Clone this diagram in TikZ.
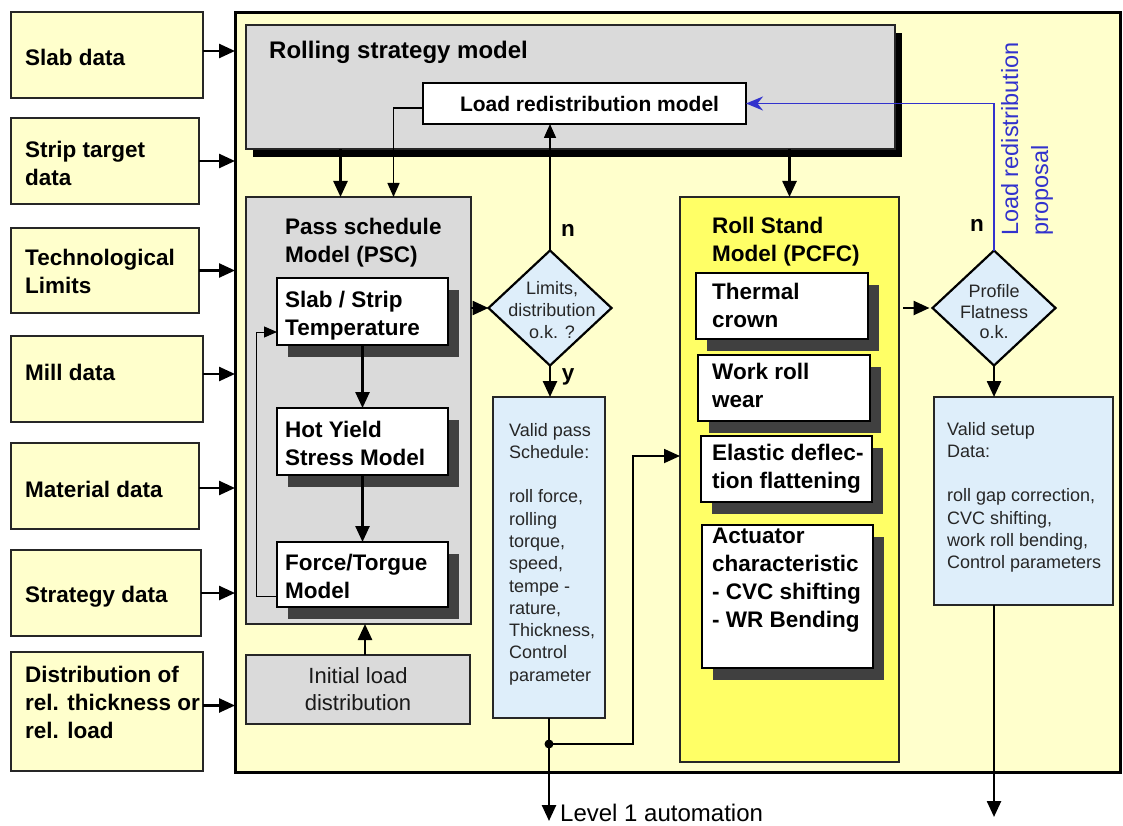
\documentclass[tikz,border=0pt]{standalone}
\usepackage{fontspec}
\setmainfont{Liberation Sans}
\usetikzlibrary{arrows.meta,shapes.geometric,fit,calc,shadows}

\definecolor{paleyellow}{RGB}{255,255,204}
\definecolor{boxgray}{RGB}{218,218,218}
\definecolor{paleblue}{RGB}{222,238,250}
\definecolor{standyellow}{RGB}{255,255,102}
\definecolor{shadowgray}{RGB}{64,64,64}
\definecolor{edge}{RGB}{38,38,38}
\definecolor{proposalblue}{RGB}{50,50,205}

\newcommand\lblfont{\fontsize{22.5}{28}\selectfont\bfseries}
\newcommand\smallfont{\fontsize{18}{22.3}\selectfont}

\tikzset{
  rect/.style={draw=edge, line width=1.4pt, inner sep=0pt, outer sep=0pt, rectangle},
  inbox/.style={rect, fill=paleyellow},
  graybox/.style={rect, fill=boxgray},
  whitebox/.style={rect, fill=white, draw=black},
  bluebox/.style={rect, fill=paleblue},
  sh/.style={drop shadow={shadow xshift=11pt, shadow yshift=-12pt, fill=shadowgray, opacity=1}},
  lbl/.style={inner sep=0pt, align=left, anchor=north west, font=\lblfont, text=black},
  small/.style={inner sep=0pt, align=left, anchor=north west, font=\smallfont, text=black!85},
  arr/.style={draw=black, line width=2.5pt, -{Triangle[length=16pt,width=14pt]}},
  thinarr/.style={draw=black, line width=1.4pt, -{Triangle[length=14pt,width=12pt]}},
  decision/.style={diamond, draw=black, line width=2.2pt, fill=paleblue, inner sep=0pt,
                   outer sep=0pt, minimum width=123pt, minimum height=115pt},
}

\begin{document}
\begin{tikzpicture}[x=1pt, y=-1pt]
\useasboundingbox (0,0) rectangle (1123,826);

% system frame
\node[rect, draw=black, line width=3pt, fill=paleyellow, fit={(235,13) (1120,772)}] (main) {};

% input data
\node[inbox, fit={(11,12) (203,98)}] (slab) {};
\node[lbl] (slabT) at (25,49) {Slab data};
\node[inbox, fit={(11,118) (199,204)}] (strip) {};
\node[lbl] (stripT) at (25,141) {Strip target\\data};
\node[inbox, fit={(11,228) (199,313)}] (tech) {};
\node[lbl] (techT) at (25,249) {Technological\\Limits};
\node[inbox, fit={(11,336) (203,422)}] (mill) {};
\node[lbl] (millT) at (25,364) {Mill data};
\node[inbox, fit={(11,443) (199,529)}] (mat) {};
\node[lbl] (matT) at (25,481) {Material data};
\node[inbox, fit={(11,550) (201,636)}] (strat) {};
\node[lbl] (stratT) at (25,586) {Strategy data};
\node[inbox, fit={(11,652) (203,771)}] (dist) {};
\node[lbl] (distT) at (25,666) {Distribution of\\rel. thickness or\\rel. load};

% rolling strategy model
\node[graybox, fit={(246,25) (895,149)},
      drop shadow={shadow xshift=7pt, shadow yshift=-8pt, fill=black, opacity=1}] (roll) {};
\node[lbl, font=\fontsize{24}{28}\selectfont\bfseries] (rollT) at (269,41) {Rolling strategy model};
\node[whitebox, fit={(423,83) (746,124)}] (lrm) {};
\node[inner sep=0pt, font=\fontsize{21}{25}\selectfont\bfseries] (lrmT) at ($(lrm.center)+(5,0)$) {Load redistribution model};

% pass schedule model
\node[graybox, fit={(246,197) (471,624)}] (psc) {};
\node[lbl] (pscT) at (285,218) {Pass schedule\\Model (PSC)};
\node[whitebox, sh, fit={(277,278) (448,345)}] (temp) {};
\node[lbl] (tempT) at (285,291) {Slab / Strip\\Temperature};
\node[whitebox, sh, fit={(277,408) (448,475)}] (hot) {};
\node[lbl] (hotT) at (285,421) {Hot Yield\\Stress Model};
\node[whitebox, sh, fit={(277,542) (448,607)}] (force) {};
\node[lbl] (forceT) at (285,554) {Force/Torgue\\Model};

\node[graybox, fit={(246,655) (470,724)}] (init) {};
\node[inner sep=0pt, font=\fontsize{22}{27}\selectfont, align=center, text=black!90] (initT) at (init.center) {Initial load\\distribution};

% first decision and pass schedule result
\node[decision] (d1) at (550,308) {};
\node[font=\smallfont, align=center, inner sep=0pt, text=black!85] (d1T) at (552,310) {Limits,\\distribution\\o.k. ?};
\node[bluebox, fit={(493,397) (605,718)}] (vps) {};
\node[small] (vpsT) at (509,423) {Valid pass\\Schedule:\\[22pt]roll force,\\rolling\\torque,\\speed,\\tempe -\\rature,\\Thickness,\\Control\\parameter};

% roll stand model
\node[rect, fill=standyellow, fit={(680,197) (899,762)}] (pcfc) {};
\node[lbl] (pcfcT) at (712,217) {Roll Stand\\Model (PCFC)};
\node[whitebox, sh, fit={(696,273) (868,339)}] (therm) {};
\node[lbl] (thermT) at (712,283) {Thermal\\crown};
\node[whitebox, sh, fit={(698,355) (870,421)}] (wear) {};
\node[lbl] (wearT) at (712,363) {Work roll\\wear};
\node[whitebox, sh, fit={(701,436) (872,502)}] (elastic) {};
\node[lbl] (elasticT) at (712,444) {Elastic deflec-\\tion flattening};
\node[whitebox, sh, fit={(702,525) (873,668)}] (act) {};
\node[lbl] (actT) at (712,528) {Actuator\\characteristic\\- CVC shifting\\- WR Bending};

% second decision and setup result
\node[decision] (d2) at (994,308) {};
\node[font=\fontsize{18}{20.5}\selectfont, align=center, inner sep=0pt, text=black!85] (d2T) at (994,312) {Profile\\Flatness\\o.k.};
\node[bluebox, fit={(934,397) (1113,605)}] (vsd) {};
\node[small] (vsdT) at (947,422) {Valid setup\\Data:\\[22pt]roll gap correction,\\CVC shifting,\\work roll bending,\\Control parameters};

% branch labels
\node[font=\lblfont, inner sep=0pt] (nA) at (568,230) {n};
\node[font=\lblfont, inner sep=0pt] (yA) at (568,377) {y};
\node[font=\lblfont, inner sep=0pt] (nB) at (977,225) {n};
\node[rotate=90, anchor=north west, inner sep=0pt, align=left, text=proposalblue,
      font=\fontsize{23.5}{30}\selectfont] (propT) at (1001,236) {Load redistribution\\proposal};
\node[inner sep=0pt, anchor=base west, font=\fontsize{24}{28}\selectfont] (lvlT) at (560,821) {Level 1 automation};

% inputs into the frame
\coordinate (aSlab) at ($(slab.east)+(0,-4)$);
\coordinate (aMill) at ($(mill.east)+(0,-5)$);
\coordinate (aMat) at ($(mat.east)+(0,2)$);
\coordinate (aDist) at ($(dist.east)+(0,-6)$);
\draw[arr] (aSlab) -- (aSlab -| main.west);
\draw[arr] (strip.east) -- (strip.east -| main.west);
\draw[arr] (tech.east) -- (tech.east -| main.west);
\draw[arr] (aMill) -- (aMill -| main.west);
\draw[arr] (aMat) -- (aMat -| main.west);
\draw[arr] (strat.east) -- (strat.east -| main.west);
\draw[arr] (aDist) -- (aDist -| main.west);

% rolling strategy to the models
\coordinate (pscIn) at ($(psc.north)+(-18,0)$);
\draw[arr] (pscIn |- roll.south) -- (pscIn);
\coordinate (lrmOut) at ($(lrm.west)+(0,4.5)$);
\coordinate (pscIn2) at ($(psc.north)+(35,0)$);
\draw[thinarr] (lrmOut) -| (pscIn2);
\draw[arr] (pcfc.north |- roll.south) -- (pcfc.north);

% inside the pass schedule model
\draw[arr] (temp.south) -- (temp.south |- hot.north);
\draw[arr] (hot.south) -- (hot.south |- force.north);
\coordinate (fbOut) at ($(force.west)+(0,21.5)$);
\coordinate (fbIn) at ($(temp.west)+(0,20.5)$);
\draw[draw=black, line width=1pt, -{Triangle[length=13pt,width=11pt]}] (fbOut) -- ++(-21,0) |- (fbIn);
\coordinate (initOut) at ($(init.north)+(7,0)$);
\draw[arr] (initOut) -- (initOut |- psc.south);

% first decision
\draw[arr] (d1.west -| psc.east) -- (d1.west);
\draw[thinarr, line width=1.6pt] (d1.north) -- (d1.north |- lrm.south);
\draw[arr] (d1.south) -- (d1.south |- vps.north);
\draw[arr] (vps.south) -- ++(0,103);
\coordinate (jn) at ($(vps.south)+(0,26)$);
\fill (jn) circle[radius=4.5pt];
\coordinate (pcfcIn) at ($(pcfc.west)+(0,-23.5)$);
\draw[arr, line width=1.8pt] (jn) -- ++(84,0) |- (pcfcIn);

% second decision
\draw[arr, shorten <=4pt, shorten >=3pt] (d2.west -| pcfc.east) -- (d2.west);
\draw[arr] (d2.south) -- (d2.south |- vsd.north);
\draw[arr] (d2.south |- vsd.south) -- ++(0,212);
\draw[draw=proposalblue, line width=1.8pt, -{Stealth[length=17pt,width=14pt]}] (d2.north) |- (lrm.east);

\end{tikzpicture}
\end{document}
